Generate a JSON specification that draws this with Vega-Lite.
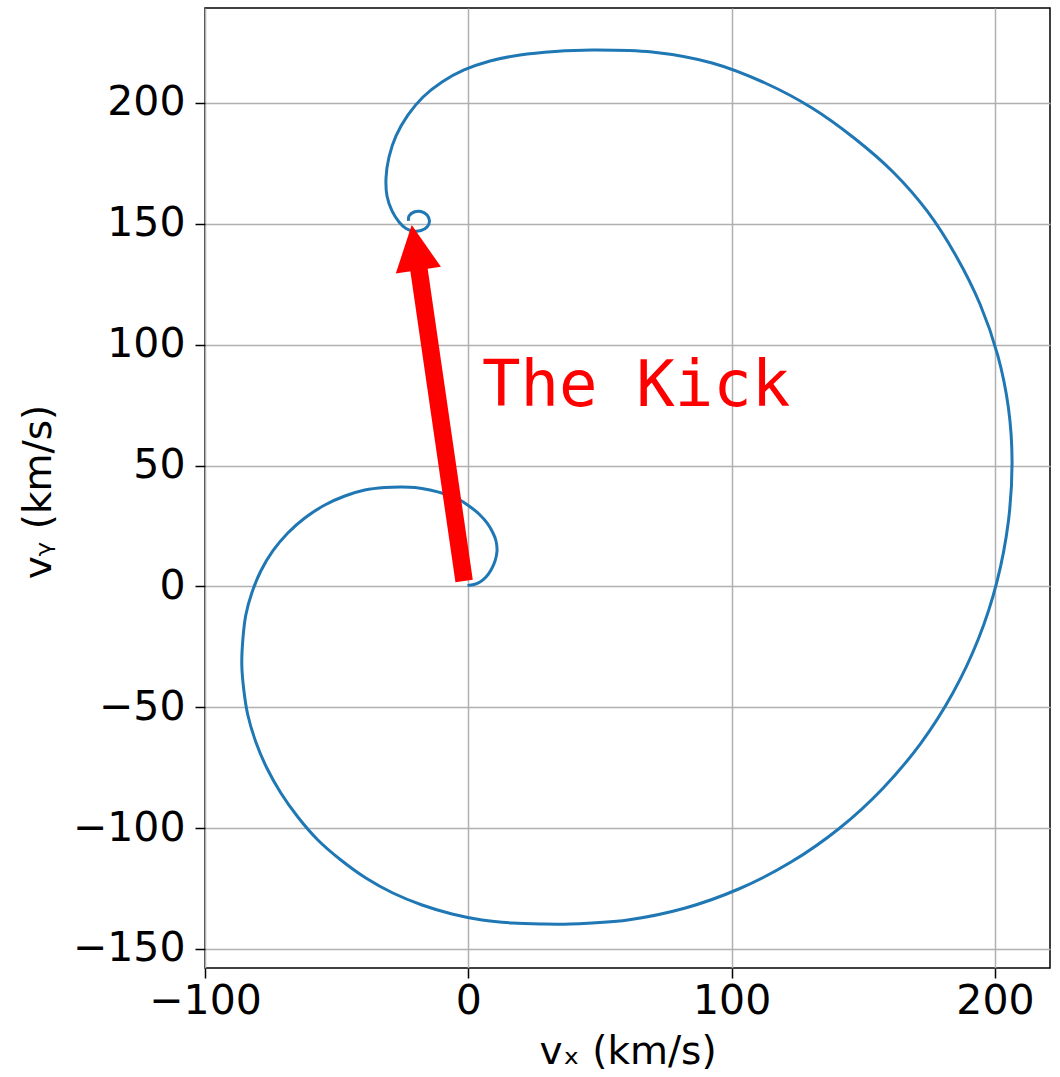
{
  "$schema": "https://vega.github.io/schema/vega-lite/v6.json",
  "width": 845,
  "height": 960,
  "autosize": "none",
  "padding": {"left": 205, "top": 8, "right": 10, "bottom": 109},
  "background": "white",
  "config": {
    "font": "DejaVu Sans",
    "view": {"stroke": "black", "strokeWidth": 1.5},
    "axis": {
      "domain": false,
      "labelFont": "DejaVu Sans",
      "labelFontSize": 41,
      "labelColor": "black",
      "labelFlush": false,
      "titleFont": "DejaVu Sans",
      "titleFontSize": 39,
      "titleFontWeight": "normal",
      "titleColor": "black",
      "tickColor": "black",
      "tickSize": 10,
      "tickWidth": 1.5,
      "gridColor": "#b0b0b0",
      "gridWidth": 1.5
    }
  },
  "layer": [
    {
      "data": {"values": [
        {"i":1,"vx":-0.30,"vy":0.37},{"i":2,"vx":2.16,"vy":0.79},{"i":3,"vx":4.44,"vy":1.82},{"i":4,"vx":6.72,"vy":3.89},
        {"i":5,"vx":8.62,"vy":6.79},{"i":6,"vx":10.14,"vy":10.51},{"i":7,"vx":10.90,"vy":14.65},{"i":8,"vx":10.52,"vy":18.78},
        {"i":9,"vx":9.38,"vy":22.09},{"i":10,"vx":7.10,"vy":26.23},{"i":11,"vx":4.06,"vy":29.95},{"i":12,"vx":0.27,"vy":33.26},
        {"i":13,"vx":-3.91,"vy":36.16},{"i":14,"vx":-8.85,"vy":38.23},{"i":15,"vx":-14.55,"vy":39.88},{"i":16,"vx":-20.24,"vy":40.92},
        {"i":17,"vx":-25.18,"vy":41.13},{"i":18,"vx":-31.71,"vy":40.92},{"i":19,"vx":-39.31,"vy":39.88},{"i":20,"vx":-46.90,"vy":37.40},
        {"i":21,"vx":-54.50,"vy":33.67},{"i":22,"vx":-62.10,"vy":28.30},{"i":23,"vx":-68.55,"vy":22.09},{"i":24,"vx":-74.25,"vy":14.65},
        {"i":25,"vx":-78.81,"vy":6.37},{"i":26,"vx":-82.23,"vy":-2.73},{"i":27,"vx":-84.50,"vy":-11.83},{"i":28,"vx":-85.64,"vy":-22.18},
        {"i":29,"vx":-86.02,"vy":-32.52},{"i":30,"vx":-85.26,"vy":-42.86},{"i":31,"vx":-83.74,"vy":-53.21},{"i":32,"vx":-80.70,"vy":-64.38},
        {"i":33,"vx":-76.52,"vy":-75.14},{"i":34,"vx":-71.20,"vy":-85.48},{"i":35,"vx":-64.74,"vy":-95.41},{"i":36,"vx":-57.14,"vy":-104.92},
        {"i":37,"vx":-48.41,"vy":-113.20},{"i":38,"vx":-38.91,"vy":-120.65},{"i":39,"vx":-28.66,"vy":-126.86},{"i":40,"vx":-17.58,"vy":-131.82},
        {"i":41,"vx":-6.19,"vy":-135.54},{"i":42,"vx":5.20,"vy":-138.02},{"i":43,"vx":16.60,"vy":-139.26},{"i":44,"vx":27.61,"vy":-139.68},
        {"i":45,"vx":38.62,"vy":-139.68},{"i":46,"vx":60.54,"vy":-138.02},{"i":47,"vx":82.07,"vy":-133.18},{"i":48,"vx":102.89,"vy":-125.11},
        {"i":49,"vx":122.56,"vy":-114.07},{"i":50,"vx":140.83,"vy":-100.17},{"i":51,"vx":157.31,"vy":-83.70},{"i":52,"vx":171.82,"vy":-64.92},
        {"i":53,"vx":184.01,"vy":-44.10},{"i":54,"vx":193.73,"vy":-21.68},{"i":55,"vx":200.76,"vy":1.99},{"i":56,"vx":205.05,"vy":26.52},
        {"i":57,"vx":206.49,"vy":51.47},{"i":58,"vx":205.13,"vy":73.73},{"i":59,"vx":201.06,"vy":95.57},{"i":60,"vx":194.34,"vy":116.71},
        {"i":61,"vx":185.23,"vy":136.70},{"i":62,"vx":174.21,"vy":155.32},{"i":63,"vx":161.30,"vy":171.45},{"i":64,"vx":146.49,"vy":185.52},
        {"i":65,"vx":130.54,"vy":197.93},{"i":66,"vx":112.69,"vy":208.27},{"i":67,"vx":92.56,"vy":216.55},{"i":68,"vx":69.77,"vy":221.10},
        {"i":69,"vx":46.98,"vy":221.93},{"i":70,"vx":32.93,"vy":221.31},{"i":71,"vx":19.64,"vy":219.86},{"i":72,"vx":8.24,"vy":217.38},
        {"i":73,"vx":-1.63,"vy":213.65},{"i":74,"vx":-9.99,"vy":208.69},{"i":75,"vx":-17.20,"vy":202.48},{"i":76,"vx":-22.90,"vy":195.04},
        {"i":77,"vx":-27.46,"vy":186.35},{"i":78,"vx":-30.12,"vy":177.66},{"i":79,"vx":-31.26,"vy":168.97},{"i":80,"vx":-30.88,"vy":161.52},
        {"i":81,"vx":-28.98,"vy":155.32},{"i":82,"vx":-26.32,"vy":150.77},{"i":83,"vx":-23.66,"vy":148.08},{"i":84,"vx":-21.00,"vy":147.04},
        {"i":85,"vx":-17.96,"vy":147.25},{"i":86,"vx":-15.68,"vy":148.70},{"i":87,"vx":-14.74,"vy":151.18},{"i":88,"vx":-15.68,"vy":153.66},
        {"i":89,"vx":-17.96,"vy":155.11},{"i":90,"vx":-20.62,"vy":154.90},{"i":91,"vx":-22.52,"vy":153.25},{"i":92,"vx":-22.71,"vy":151.18}
      ]},
      "mark": {"type": "line", "interpolate": "catmull-rom", "color": "#1f77b4", "strokeWidth": 3},
      "encoding": {
        "x": {"field": "vx", "type": "quantitative",
              "scale": {"domain": [-100, 220.9], "nice": false, "zero": false},
              "axis": {"values": [-100, 0, 100, 200], "title": "vₓ (km/s)", "labelPadding": 3,
                       "titleX": 422.5, "titleY": 95, "titleBaseline": "alphabetic", "titleAlign": "center"}},
        "y": {"field": "vy", "type": "quantitative",
              "scale": {"domain": [-157.9, 239.3], "nice": false, "zero": false},
              "axis": {"values": [-150, -100, -50, 0, 50, 100, 150, 200], "title": "vᵧ (km/s)", "labelPadding": 10,
                       "titleX": -155, "titleY": 483.5, "titleAngle": -90, "titleBaseline": "alphabetic", "titleAlign": "center"}},
        "order": {"field": "i", "type": "quantitative"}
      }
    },
    {
      "data": {"values": [{"tx": -1.6, "ty": 2.2, "bx": -19.0, "by": 133.0}]},
      "mark": {"type": "rule", "color": "#ff0000", "strokeWidth": 17.5, "strokeCap": "butt"},
      "encoding": {
        "x": {"field": "tx", "type": "quantitative"},
        "y": {"field": "ty", "type": "quantitative"},
        "x2": {"field": "bx"},
        "y2": {"field": "by"}
      }
    },
    {
      "data": {"values": [{"hx": -21.5, "hy": 149.5}]},
      "mark": {"type": "point", "shape": "M0,0L1,2L-1,2Z", "filled": true, "color": "#ff0000", "opacity": 1, "size": 2080, "angle": -8.4, "strokeWidth": 0},
      "encoding": {
        "x": {"field": "hx", "type": "quantitative"},
        "y": {"field": "hy", "type": "quantitative"}
      }
    },
    {
      "data": {"values": [{"label": "The Kick", "lx": 5.2, "ly": 74.8}]},
      "mark": {"type": "text", "font": "DejaVu Sans Mono", "fontSize": 64, "color": "#ff0000", "align": "left", "baseline": "alphabetic"},
      "encoding": {
        "x": {"field": "lx", "type": "quantitative"},
        "y": {"field": "ly", "type": "quantitative"},
        "text": {"field": "label"}
      }
    }
  ]
}
